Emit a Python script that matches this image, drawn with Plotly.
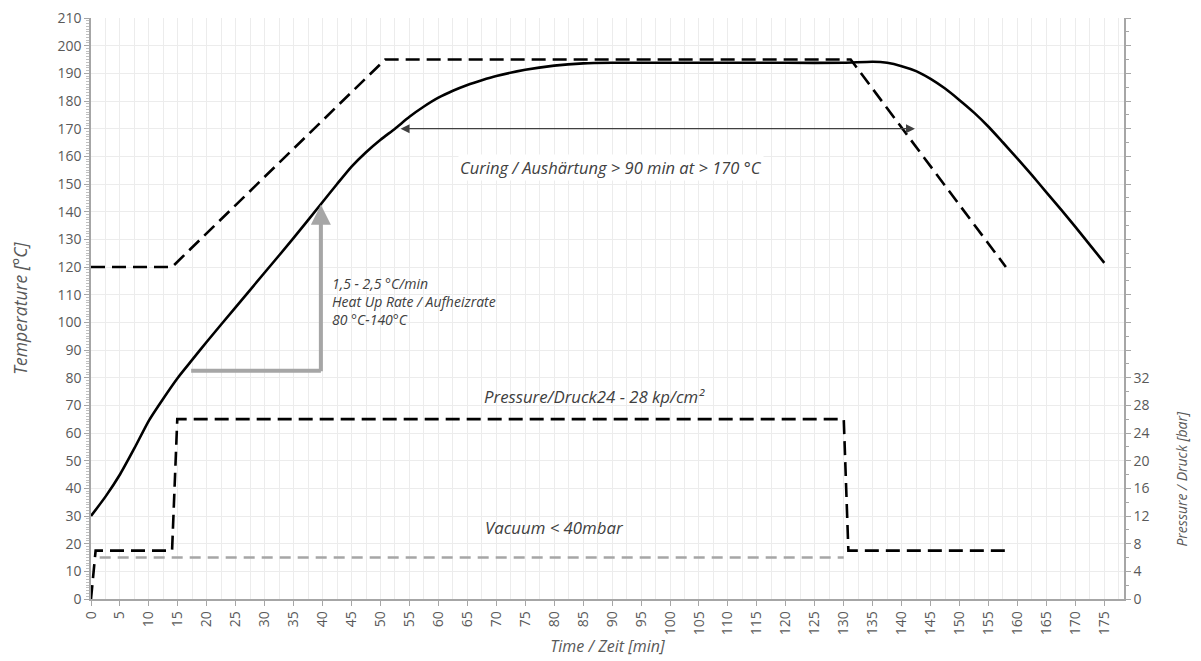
import plotly.graph_objects as go

# ---- data ----
part_time = [0, 2.5, 5, 7.5, 10, 12.5, 15, 17.5, 20, 25, 30, 35, 40, 42.5, 45, 47.5, 50, 52.5, 55, 57.5,
             60, 62.5, 65, 67.5, 70, 75, 80, 85, 90, 100, 110, 120, 130, 135, 137.5, 140, 142.5, 145,
             147.5, 150, 152.5, 155, 157.5, 160, 162.5, 165, 167.5, 170, 172.5, 175]
part_temp = [30, 37, 45, 54.5, 64.5, 72.5, 80, 86.5, 93, 105.5, 118, 130.5, 143.5, 150, 156.3, 161.5, 166,
             170, 174.3, 178, 181.2, 183.7, 185.8, 187.5, 189, 191.3, 192.8, 193.6, 193.8, 193.8, 193.8,
             193.8, 193.8, 194.2, 193.8, 192.6, 190.8, 188, 184.5, 180.3, 175.8, 170.7, 165, 159.2,
             153.2, 147, 140.8, 134.5, 128, 121.5]

air_time = [0, 14, 50.8, 131.2, 158]
air_temp = [120, 120, 195, 195, 120]

press_time = [0, 0.8, 14, 14.9, 130, 130.8, 158]
press_bar = [0, 7, 7, 26, 26, 7, 7]

vac_time = [1.5, 130]
vac_bar = [6, 6]

heat_arrow_time = [17.3, 39.7]
heat_arrow_temp = [82.5, 82.5]
heat_arrow_tip = [39.7, 142.5]

curing_arrow = [53.2, 142.3, 170]

ytick_vals = list(range(0, 211, 10))
y2tick_vals = list(range(0, 85, 4))
y2tick_text = [str(v) if v <= 32 else "" for v in y2tick_vals]
xtick_vals = list(range(0, 176, 5))

FONT = "Open Sans"
TXT = "#404040"
TICK = "#595959"
AXIS = "#a6a6a6"
GRID = "#ececec"

fig = go.Figure()

fig.add_trace(go.Scatter(x=air_time, y=air_temp, mode="lines",
                         line=dict(color="black", width=2.6, dash="14px,7px"), showlegend=False))
fig.add_trace(go.Scatter(x=part_time, y=part_temp, mode="lines", line_shape="spline",
                         line=dict(color="black", width=2.6, smoothing=0.6), showlegend=False))
fig.add_trace(go.Scatter(x=vac_time, y=vac_bar, mode="lines", yaxis="y2",
                         line=dict(color="#a6a6a6", width=2.6, dash="11px,7px"), showlegend=False))
fig.add_trace(go.Scatter(x=press_time, y=press_bar, mode="lines", yaxis="y2",
                         line=dict(color="black", width=2.6, dash="14px,7px"), showlegend=False))
fig.add_trace(go.Scatter(x=heat_arrow_time, y=heat_arrow_temp, mode="lines",
                         line=dict(color="#a6a6a6", width=4), showlegend=False))

annotations = [
    # heat-up vertical arrow
    dict(x=heat_arrow_tip[0], y=heat_arrow_tip[1], ax=heat_arrow_time[1], ay=heat_arrow_temp[1] - 0.7,
         xref="x", yref="y", axref="x", ayref="y", showarrow=True, arrowhead=2, arrowsize=1.0,
         arrowwidth=4, arrowcolor="#a6a6a6", text=""),
    # curing double arrow
    dict(x=curing_arrow[1], y=curing_arrow[2], ax=curing_arrow[0], ay=curing_arrow[2],
         xref="x", yref="y", axref="x", ayref="y", showarrow=True, arrowhead=2, startarrowhead=2,
         arrowside="end+start", arrowsize=1.5, startarrowsize=1.5, arrowwidth=1.2,
         arrowcolor="#404040", text=""),
    dict(x=89.8, y=155.8, xref="x", yref="y", showarrow=False, bgcolor="white",
         text="<i>Curing / Aushärtung &gt; 90 min at &gt; 170 °C</i>",
         font=dict(family=FONT, size=16.5, color=TXT)),
    dict(x=41.3, y=107.7, xref="x", yref="y", showarrow=False, xanchor="left", align="left",
         text="<i>1,5 - 2,5 °C/min<br>Heat Up Rate / Aufheizrate<br>80 °C-140°C</i>",
         font=dict(family=FONT, size=14, color=TXT)),
    dict(x=86.9, y=73.2, xref="x", yref="y", showarrow=False,
         text="<i>Pressure/Druck24 - 28 kp/cm²</i>",
         font=dict(family=FONT, size=16.8, color=TXT)),
    dict(x=80, y=25.8, xref="x", yref="y", showarrow=False,
         text="<i>Vacuum &lt; 40mbar</i>",
         font=dict(family=FONT, size=16.8, color=TXT)),
    dict(x=1.056, y=0.207, xref="paper", yref="paper", showarrow=False, textangle=-90,
         xanchor="center", yanchor="middle",
         text="<i>Pressure / Druck [bar]</i>",
         font=dict(family=FONT, size=14, color=TICK)),
]

fig.update_layout(
    width=1193, height=653,
    margin=dict(l=83, r=77, t=10, b=62, autoexpand=False),
    paper_bgcolor="white", plot_bgcolor="white",
    font=dict(family=FONT, size=14, color=TICK),
    annotations=annotations,
    xaxis=dict(range=[0, 178.4], tickvals=xtick_vals, tickangle=-90, automargin=False,
               ticklabeloverflow="allow",
               showgrid=True, gridcolor=GRID, gridwidth=1,
               minor=dict(dtick=2.5, tick0=0, showgrid=True, gridcolor=GRID, ticks=""),
               showline=True, linecolor=AXIS, linewidth=1.5, ticks="outside", ticklen=5,
               tickcolor=AXIS, zeroline=False,
               title=dict(text="<i>Time / Zeit [min]</i>", standoff=6,
                          font=dict(family=FONT, size=16, color=TICK)),
               tickfont=dict(family=FONT, size=14, color=TICK)),
    yaxis=dict(range=[0, 210], tickvals=ytick_vals, showgrid=True, gridcolor=GRID, automargin=False,
               ticklabeloverflow="allow",
               showline=True, linecolor=AXIS, linewidth=1.5, ticks="outside", ticklen=5,
               tickcolor=AXIS, zeroline=False,
               minor=dict(dtick=1, tick0=0, ticks="outside", ticklen=3, tickcolor="#c0c0c0", showgrid=False),
               title=dict(text="<i>Temperature [°C]</i>", standoff=29,
                          font=dict(family=FONT, size=17.5, color=TICK)),
               tickfont=dict(family=FONT, size=14, color=TICK)),
    yaxis2=dict(range=[0, 84], overlaying="y", side="right", tickvals=y2tick_vals, ticktext=y2tick_text,
                showgrid=False, showline=True, linecolor=AXIS, linewidth=1.5, ticks="outside",
                ticklen=5, tickcolor=AXIS, zeroline=False, automargin=False,
                ticklabeloverflow="allow",
                minor=dict(dtick=2, tick0=0, ticks="outside", ticklen=3, tickcolor=AXIS),
                tickfont=dict(family=FONT, size=14, color=TICK)),
)

fig.write_html("out.html")
